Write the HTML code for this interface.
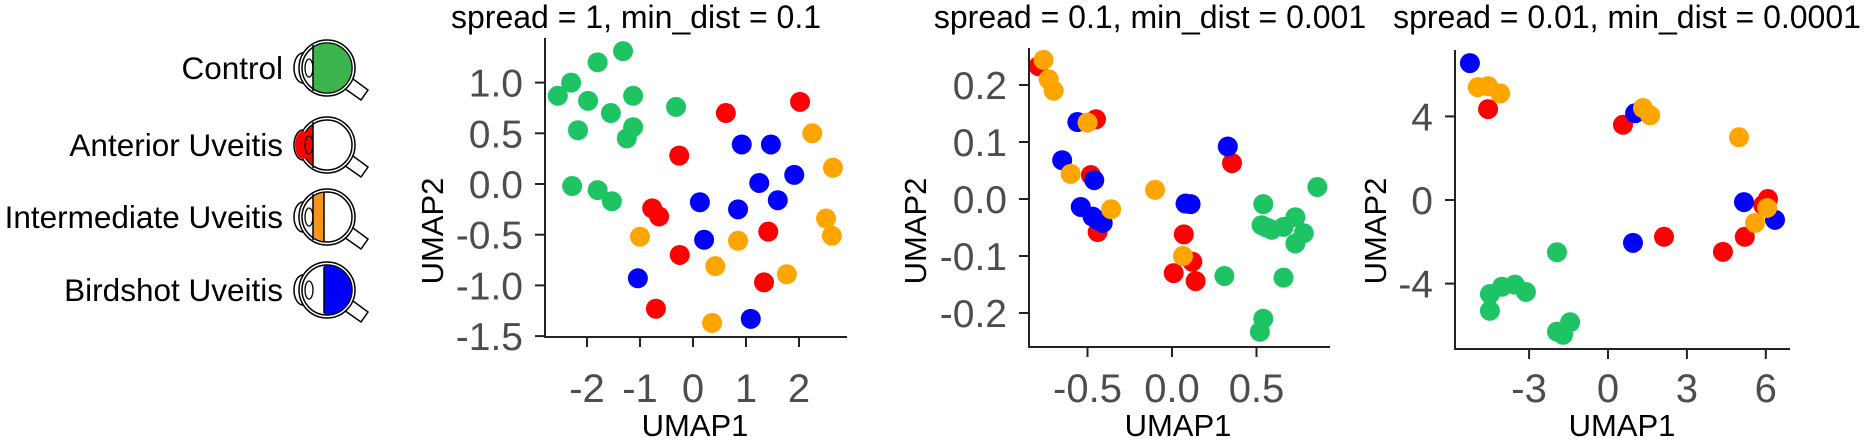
<!DOCTYPE html>
<html><head><meta charset="utf-8"><style>
html,body{margin:0;padding:0;background:#fff;}
svg{display:block;font-family:"Liberation Sans",Arial,sans-serif;}
</style></head><body>
<svg id="fig" width="1865" height="447" viewBox="0 0 1865 447">
<g id="legend"></g>
<g id="panels"></g>
</svg>
<script>
// ---- data ----
const groupNames = ["Control","Anterior Uveitis","Intermediate Uveitis","Birdshot Uveitis"];
const groupColors = ["#1ec463","#ff0000","#ffa500","#0000ff"];

// Panel 1: spread = 1, min_dist = 0.1   (group index: 0 control,1 anterior,2 intermediate,3 birdshot)
const p1Group = [0,0,0,0,0,0,0,0,0,0,0,0,0,0, 1,1,1,1,1,1,1,1,1, 3,3,3,3,3,3,3,3,3,3, 2,2,2,2,2,2,2,2,2];
const p1X = [-2.55,-2.3,-1.98,-1.8,-1.32,-1.13,-1.55,-2.17,-1.13,-1.25,-0.32,-2.28,-1.8,-1.53,
  0.62,-0.26,-0.77,-0.64,-0.25,-0.7,2.02,1.42,1.34,
  0.92,1.47,1.91,1.25,1.6,0.13,0.85,0.21,1.09,-1.04,
  2.25,2.64,2.51,2.62,0.85,0.42,1.77,-1.0,0.36];
const p1Y = [0.87,1.0,0.82,1.2,1.31,0.87,0.7,0.53,0.56,0.45,0.76,-0.02,-0.06,-0.17,
  0.7,0.28,-0.24,-0.32,-0.7,-1.23,0.81,-0.47,-0.97,
  0.39,0.39,0.09,0.01,-0.16,-0.18,-0.25,-0.55,-1.33,-0.93,
  0.5,0.16,-0.34,-0.51,-0.56,-0.81,-0.89,-0.52,-1.37];

// Panel 2: spread = 0.1, min_dist = 0.001
const p2Group = [0,0,0,0,0,0,0,0,0,0,0,0,0,
  1,1,1,1,1,1,1,1,1,
  3,3,3,3,3,3,3,3,3,3,
  2,2,2,2,2,2,2,2];
const p2X = [0.86,0.54,0.53,0.59,0.66,0.73,0.78,0.73,0.31,0.66,0.54,0.52,0.56,
  -0.79,-0.45,-0.48,-0.44,0.07,0.12,0.01,0.14,0.355,
  -0.56,-0.65,-0.46,-0.54,-0.47,-0.41,-0.44,0.08,0.11,0.33,
  -0.76,-0.73,-0.70,-0.50,-0.60,-0.36,-0.10,0.065];
const p2Y = [0.021,-0.009,-0.046,-0.054,-0.049,-0.032,-0.06,-0.078,-0.135,-0.138,-0.21,-0.233,-0.05,
  0.233,0.14,0.042,-0.058,-0.062,-0.11,-0.13,-0.144,0.063,
  0.135,0.068,0.033,-0.014,-0.031,-0.042,-0.037,-0.008,-0.009,0.092,
  0.244,0.21,0.19,0.134,0.044,-0.018,0.016,-0.10];

// Panel 3: spread = 0.01, min_dist = 0.0001
const p3Group = [0,0,0,0,0,0,0,0,0,
  1,1,1,1,1,1,1,
  3,3,3,3,3,
  2,2,2,2,2,2,2,2];
const p3X = [-1.94,-4.49,-4.49,-4.03,-3.54,-3.12,-1.94,-1.44,-1.71,
  -4.56,0.57,2.13,4.37,5.2,6.08,5.9,
  -5.25,1.03,0.95,5.17,6.35,
  -4.95,-4.56,-4.1,1.33,1.6,4.98,6.05,5.59];
const p3Y = [-2.5,-4.5,-5.3,-4.15,-4.05,-4.4,-6.3,-5.85,-6.45,
  4.35,3.6,-1.76,-2.48,-1.76,0.05,-0.24,
  6.55,4.15,-2.05,-0.1,-0.95,
  5.4,5.45,5.1,4.4,4.05,3.0,-0.38,-1.1];

const p1XTicks = [-2,-1,0,1,2];
const p1YTicks = [1.0,0.5,0.0,-0.5,-1.0,-1.5];
const p1YLabels = ["1.0","0.5","0.0","-0.5","-1.0","-1.5"];
const p2XTicks = [-0.5,0.0,0.5];
const p2XLabels = ["-0.5","0.0","0.5"];
const p2YTicks = [0.2,0.1,0.0,-0.1,-0.2];
const p2YLabels = ["0.2","0.1","0.0","-0.1","-0.2"];
const p3XTicks = [-3,0,3,6];
const p3YTicks = [4,0,-4];

// ---- layout ----
const NS = "http://www.w3.org/2000/svg";
function mk(tag, attrs, parent){
  const e = document.createElementNS(NS, tag);
  for (const k in attrs) e.setAttribute(k, attrs[k]);
  parent.appendChild(e);
  return e;
}

const panels = [
  {title:"spread = 1, min_dist = 0.1", titleX:636, g:p1Group, xs:p1X, ys:p1Y,
   x0:545, x1:847, yTop:38, yBot:337,
   xs0:0, xpx0:693, xScale:53, ys0:0, ypx0:184, yScale:101.4,
   xt:p1XTicks, xtl:p1XTicks.map(String), yt:p1YTicks, ytl:p1YLabels, ylabX:432, xlabX:695},
  {title:"spread = 0.1, min_dist = 0.001", titleX:1150, g:p2Group, xs:p2X, ys:p2Y,
   x0:1029, x1:1330, yTop:48, yBot:347,
   xs0:0, xpx0:1172, xScale:169, ys0:0, ypx0:199, yScale:570,
   xt:p2XTicks, xtl:p2XLabels, yt:p2YTicks, ytl:p2YLabels, ylabX:915, xlabX:1178},
  {title:"spread = 0.01, min_dist = 0.0001", titleX:1627, g:p3Group, xs:p3X, ys:p3Y,
   x0:1455, x1:1790, yTop:50, yBot:349,
   xs0:0, xpx0:1608, xScale:26.3, ys0:0, ypx0:200, yScale:20.9,
   xt:p3XTicks, xtl:p3XTicks.map(String), yt:p3YTicks, ytl:p3YTicks.map(String), ylabX:1375, xlabX:1622}
];

const root = document.getElementById("panels");
panels.forEach((p, pi) => {
  const sx = v => p.xpx0 + (v - p.xs0) * p.xScale;
  const sy = v => p.ypx0 - (v - p.ys0) * p.yScale;
  const g = mk("g", {}, root);
  
  

  const t = mk("text", {x:p.titleX, y:28, "text-anchor":"middle", "font-size":"32", fill:"#000"}, g);
  t.textContent = p.title;
  
  

  const pts = mk("g", {}, g);
  
  
  const n = Math.min(p.xs.length, p.ys.length, p.g.length);
  for (let i = 0; i < n; i++) {
    const gi = p.g[i] || 0;
    const c = mk("circle", {cx:sx(p.xs[i]), cy:sy(p.ys[i]), r:10, fill:groupColors[gi]}, pts);
    
    
  }

  const ya = mk("line", {x1:p.x0, y1:p.yTop, x2:p.x0, y2:p.yBot+1, stroke:"#222", "stroke-width":2}, g);
  
  
  const xa = mk("line", {x1:p.x0-1, y1:p.yBot, x2:p.x1, y2:p.yBot, stroke:"#222", "stroke-width":2}, g);
  
  

  p.xt.forEach((v, i) => {
    const X = sx(v);
    const tk = mk("line", {x1:X, y1:p.yBot, x2:X, y2:p.yBot+10, stroke:"#222", "stroke-width":2}, g);
    
    
    const tl = mk("text", {x:X, y:402, "text-anchor":"middle", "font-size":"40", fill:"#4d4d4d"}, g);
    tl.textContent = p.xtl[i];
    
    
  });
  p.yt.forEach((v, i) => {
    const Y = sy(v);
    const tk = mk("line", {x1:p.x0-10, y1:Y, x2:p.x0, y2:Y, stroke:"#222", "stroke-width":2}, g);
    
    
    const tl = mk("text", {x:p.x0-22, y:Y+14, "text-anchor":"end", "font-size":"39", fill:"#4d4d4d"}, g);
    tl.textContent = p.ytl[i];
    
    
  });

  const xl = mk("text", {x:p.xlabX, y:436, "text-anchor":"middle", "font-size":"31", fill:"#000"}, g);
  xl.textContent = "UMAP1";
  
  
  const yl = mk("text", {x:0, y:0, "text-anchor":"middle", "font-size":"31", fill:"#000",
    transform:"translate(" + (p.ylabX+11) + ",231) rotate(-90)"}, g);
  yl.textContent = "UMAP2";
  
  
});

// ---- legend with eye icons ----
const leg = document.getElementById("legend");
const defs = mk("defs", {}, leg);
const rowY = [68, 145, 217, 290];
const CX = 327, R = 26;
rowY.forEach((cy, i) => {
  const row = mk("g", {}, leg);
  
  
  const tx = mk("text", {x:283, y:cy+11, "text-anchor":"end", "font-size":"31.5", fill:"#000"}, row);
  tx.textContent = groupNames[i];
  
  

  const icon = mk("g", {}, row);
  
  
  mk("path", {d:`M${CX+14} ${cy+18} L${CX+34} ${cy+32} L${CX+41} ${cy+22} L${CX+22} ${cy+8} Z`,
    fill:"#fff", stroke:"#000", "stroke-width":1.5}, icon);
  mk("ellipse", {cx:CX-R+2, cy:cy, rx:9, ry:15, fill:"#fff", stroke:"#000", "stroke-width":1.5}, icon);
  mk("circle", {cx:CX, cy:cy, r:R+2, fill:"#fff", stroke:"#000", "stroke-width":1.5}, icon);
  mk("circle", {cx:CX, cy:cy, r:R-1, fill:"#fff", stroke:"#000", "stroke-width":1.5}, icon);
  const cp = mk("clipPath", {id:"eyeclip"+i}, defs);
  mk("circle", {cx:CX, cy:cy, r:R-1.5}, cp);
  let rx0, rx1;
  if (i === 0) { rx0 = CX-14; rx1 = CX+R; }
  else if (i === 1) { rx0 = CX-R-10; rx1 = CX-14; }
  else if (i === 2) { rx0 = CX-14; rx1 = CX-3; }
  else { rx0 = CX-3; rx1 = CX+R; }
  if (i === 1) {
    mk("ellipse", {cx:CX-R+2, cy:cy, rx:8, ry:14, fill:groupColors[1]}, icon);
  }
  mk("rect", {x:rx0, y:cy-R, width:rx1-rx0, height:2*R, fill:(i===0?"#3cb44b":i===2?"#f7941d":groupColors[i]), "clip-path":"url(#eyeclip"+i+")"}, icon);
  mk("line", {x1:(i===3?CX-3:CX-14), y1:cy-R+3, x2:(i===3?CX-3:CX-14), y2:cy+R-3, stroke:"#000", "stroke-width":1.5}, icon);
  if (i === 2) mk("line", {x1:CX-3, y1:cy-R+1, x2:CX-3, y2:cy+R-1, stroke:"#000", "stroke-width":1.5}, icon);
  mk("ellipse", {cx:CX-R+8, cy:cy, rx:4, ry:9, fill:"none", stroke:"#000", "stroke-width":1.3}, icon);
});
</script>
</body></html>
